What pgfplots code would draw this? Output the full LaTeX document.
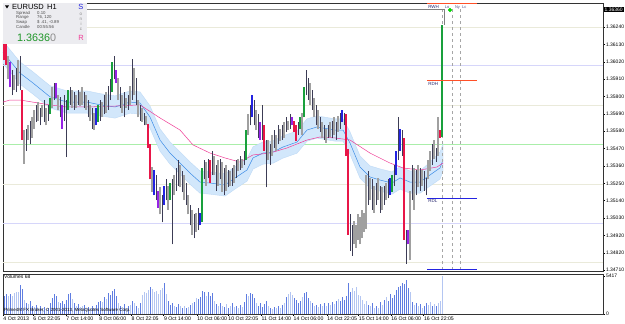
\documentclass[border=0pt]{standalone}
\usepackage{pgfplots}
\pgfplotsset{compat=1.18}
\usepackage{pgfplotstable}
\usepackage{fontspec}
\setmainfont{Liberation Sans}
\definecolor{cdark}{RGB}{60,60,85}
\definecolor{cgray}{RGB}{160,160,160}
\definecolor{cred}{RGB}{232,22,72}
\definecolor{cgreen}{RGB}{25,160,60}
\definecolor{cblue}{RGB}{35,35,225}
\definecolor{cpurple}{RGB}{150,35,230}
\definecolor{corange}{RGB}{255,80,40}
\definecolor{bandfill}{RGB}{210,231,251}
\definecolor{bandedge}{RGB}{190,218,246}
\definecolor{mablue}{RGB}{60,140,230}
\definecolor{mapink}{RGB}{240,60,150}
\definecolor{vdark}{RGB}{95,125,225}
\definecolor{vlight}{RGB}{180,198,242}
\definecolor{pbeige}{RGB}{234,234,218}
\definecolor{plav}{RGB}{214,214,250}
\definecolor{pgreen}{RGB}{170,238,170}
\definecolor{navytxt}{RGB}{40,40,110}
\definecolor{boxgray}{RGB}{236,236,240}
\definecolor{bignum}{RGB}{30,150,40}

% candles by colour class: bar index, low, high (pips above 1.3400)
\pgfplotstableread{
x lo hi
4 181 197
6 183 198
8 184 206
11 146 160
13 150 165
16 164 175
18 162 173
20 164 178
22 165 175
25 178 189
28 167 180
30 165 181
31 142 178
33 175 186
35 172 183
37 175 184
40 173 183
42 167 178
44 160 173
48 165 178
50 169 181
52 172 187
53 178 191
55 191 206
58 173 186
60 167 183
62 172 181
64 178 204
66 175 192
68 165 175
70 162 170
76 115 131
79 101 118
81 115 128
84 87 128
86 121 135
87 124 140
89 120 133
91 112 126
93 99 112
95 91 106
97 96 110
100 128 140
102 129 141
104 131 146
106 121 137
108 128 141
110 118 135
112 123 134
114 124 135
116 129 140
118 134 143
120 137 146
123 162 175
125 162 178
127 154 169
129 153 175
131 123 153
133 137 150
135 148 159
137 150 162
139 153 162
141 158 167
143 160 169
147 156 164
151 181 197
152 178 192
154 172 184
156 162 175
158 158 167
160 153 162
162 154 162
164 154 165
166 153 164
168 160 170
170 162 170
173 83 106
174 80 99
182 112 133
184 109 128
186 112 126
188 107 124
190 112 124
192 116 128
195 124 137
197 140 167
199 143 159
201 75 96
204 115 137
206 118 134
208 121 135
210 121 133
211 118 129
214 137 150
216 139 148
}\cdarkbars

\pgfplotstableread{
x lo hi
2 191 206
5 184 194
7 187 203
10 138 159
12 153 162
14 154 167
15 160 172
17 165 177
19 167 175
21 162 173
24 173 186
27 172 181
34 173 184
36 173 181
38 174 183
39 175 186
41 172 181
43 165 175
45 159 170
49 167 177
51 170 183
57 178 192
59 170 181
61 173 179
63 175 187
65 181 198
67 167 178
69 164 173
71 162 168
74 120 136
78 106 123
82 109 124
85 118 131
88 123 137
90 115 131
92 106 118
94 93 109
96 95 107
101 124 139
105 131 143
107 124 140
109 120 139
111 121 137
113 124 133
115 126 137
117 133 141
119 135 141
122 156 169
126 159 172
132 140 153
134 143 156
136 146 156
138 152 160
140 154 164
142 159 165
149 156 170
153 175 189
155 167 179
157 160 172
159 154 164
161 151 160
163 155 164
165 156 167
167 158 168
175 87 102
176 85 99
177 90 106
178 87 104
179 91 109
180 95 107
181 97 131
183 115 129
185 107 124
187 115 129
189 109 123
191 115 126
203 77 121
205 109 135
207 123 137
209 124 134
212 128 140
213 133 146
215 141 153
217 143 167
}\cgraybars

\pgfplotstableread{
x lo hi
0 203 216
1 200 213
9 153 184
72 148 163
73 128 150
103 126 140
130 146 162
145 158 165
146 152 162
171 143 169
172 93 147
200 90 154
218 154 159
}\credbars

\pgfplotstableread{
x lo hi
23 169 179
32 172 184
47 164 175
54 183 202
83 115 126
99 101 135
121 140 159
148 160 167
150 167 186
194 120 131
219 155 225
}\cgreenbars

\pgfplotstableread{
x lo hi
46 162 173
75 118 134
80 112 124
98 99 107
124 167 181
169 164 172
193 118 129
196 131 146
198 146 160
}\cbluebars

\pgfplotstableread{
x lo hi
3 186 202
26 179 189
29 160 175
56 189 197
77 110 121
128 153 164
144 162 167
202 87 96
}\cpurplebars

% volumes (all bars), and the lighter-coloured subset
\pgfplotstableread{
x vol
0 2500
1 2800
2 2500
3 2800
4 2600
5 3000
6 3200
7 3100
8 4100
9 3500
10 2000
11 1600
12 1400
13 1800
14 1200
15 1000
16 1300
17 900
18 1100
19 800
20 1000
21 700
22 900
23 1500
24 2300
25 2800
26 2500
27 1700
28 1500
29 1800
30 1400
31 2000
32 2900
33 3000
34 2200
35 1500
36 1200
37 1400
38 1000
39 1100
40 1300
41 900
42 1000
43 800
44 1200
45 900
46 1300
47 1700
48 1900
49 1700
50 2400
51 2100
52 3000
53 2700
54 3300
55 3500
56 2600
57 1500
58 1200
59 1000
60 1400
61 800
62 1100
63 1300
64 1800
65 1500
66 1200
67 900
68 1500
69 2700
70 3200
71 3000
72 3400
73 3900
74 3600
75 3100
76 3300
77 2900
78 3400
79 3700
80 4400
81 2800
82 1800
83 1300
84 1600
85 1200
86 1000
87 1400
88 1100
89 900
90 1200
91 800
92 1000
93 1300
94 1500
95 1700
96 2300
97 2100
98 2400
99 3300
100 3100
101 2600
102 3200
103 2500
104 3000
105 1800
106 1400
107 1100
108 1600
109 1200
110 1000
111 1400
112 900
113 1100
114 1500
115 1000
116 1200
117 800
118 1300
119 1000
120 1700
121 2800
122 2600
123 3000
124 2900
125 2300
126 1500
127 1200
128 1600
129 1000
130 1400
131 1800
132 1100
133 900
134 700
135 1000
136 800
137 1200
138 900
139 1300
140 1600
141 2400
142 2900
143 3100
144 2700
145 2300
146 2000
147 1500
148 1800
149 2400
150 3000
151 3200
152 2300
153 1800
154 1500
155 1200
156 1300
157 1000
158 1400
159 1100
160 1500
161 1200
162 1600
163 1300
164 1700
165 1400
166 1800
167 2100
168 1900
169 2400
170 2000
171 2600
172 4400
173 3200
174 3700
175 3300
176 3900
177 2700
178 2500
179 2000
180 1400
181 1800
182 1300
183 1100
184 1500
185 900
186 1200
187 800
188 1700
189 1300
190 2000
191 2400
192 1900
193 2800
194 2300
195 2700
196 3400
197 3800
198 4000
199 4400
200 4300
201 4800
202 3700
203 3100
204 1700
205 1300
206 1500
207 1100
208 1400
209 900
210 1200
211 1500
212 1300
213 1700
214 1100
215 1400
216 1200
217 1600
218 1900
219 5417
}\vols

\pgfplotstableread{
x vol
2 2500
4 2600
5 3000
6 3200
7 3100
10 2000
12 1400
15 1000
17 900
19 800
21 700
27 1700
34 2200
36 1200
38 1000
39 1100
41 900
43 800
45 900
49 1700
51 2100
57 1500
59 1000
61 800
63 1300
65 1500
67 900
69 2700
70 3200
71 3000
72 3400
74 3600
75 3100
76 3300
77 2900
78 3400
79 3700
81 2800
85 1200
88 1100
90 1200
92 1000
94 1500
96 2300
101 2600
105 1800
107 1100
109 1200
111 1400
113 1100
115 1000
117 800
119 1000
122 2600
126 1500
132 1100
134 700
136 800
138 900
140 1600
142 2900
143 3100
144 2700
149 2400
153 1800
155 1200
157 1000
159 1100
161 1200
163 1300
165 1400
167 2100
174 3700
175 3300
176 3900
177 2700
178 2500
179 2000
180 1400
181 1800
183 1100
185 900
187 800
189 1300
191 2400
203 3100
205 1300
207 1100
209 900
212 1300
213 1700
215 1400
217 1600
218 1900
219 5417
}\volslight

\pgfplotstableread{
x mid
-0.5 208
8 195
14.5 188.7
23 180
31.5 176.7
41.5 176.7
48 175
55.5 173.6
63 176.7
68 176.1
73 167.3
78 152.8
83 144.6
88 138.3
93 132
98 126.3
103 125.7
110.5 124.5
115.5 128.9
121.5 133.9
124.5 141.5
129.5 144.6
134.5 145.2
139.5 148.4
146.5 151.5
151.5 159.1
156.5 161
165.5 159.1
169.5 159.1
173 150.9
178 135.8
183 129.5
188 127.6
194 125.7
198 128.9
203 126.3
208 126.3
213 130.8
218 135.2
219.5 140.2
}\fastma

\pgfplotstableread{
x v
-0.5 176.7
3 178
8 178
23 174.9
31.5 173.6
41.5 173.6
55.5 174.2
68 174.9
78 166.7
88 159.1
94.5 149.7
103 144.6
110.5 141.5
118 138.9
124.5 143.4
133 144.6
141.5 147.8
151.5 152.8
158 154.7
165.5 154.1
173 152.8
183 144.6
193 138.3
199.5 135.2
208 133.9
216.5 135.8
219.5 138.3
}\slowma

\pgfplotsset{
  pbar/.style 2 args={draw=none, mark=none, forget plot,
    error bars/.cd, y dir=plus, y explicit, error mark=none,
    error bar style={line width=#2, draw=#1}},
  pivot/.style={line width=0.8pt, mark=none, forget plot},
}

\begin{document}
\begin{tikzpicture}
\path[use as bounding box] (0,0) rectangle (625pt,324pt);
\fill[white] (0,0) rectangle (625pt,324pt);

% ---------- price panel ----------
\begin{axis}[
  at={(3pt,53pt)}, anchor=south west, scale only axis,
  width=600pt, height=268pt,
  xmin=-0.5, xmax=299.5, ymin=70.3, ymax=239.1,
  clip=false,
  axis line style={draw=black!80, line width=0.8pt},
  xtick=\empty,
  ytick={224,213.06,202.12,191.18,180.24,169.30,158.36,147.42,136.48,125.54,114.60,103.66,92.72,81.78,70.84},
  yticklabels={1.36240,1.36130,1.36020,1.35910,1.35800,1.35690,1.35580,1.35470,1.35360,1.35250,1.35140,1.35030,1.34920,1.34820,1.34710},
  ytick pos=right, yticklabel pos=right, tick align=outside,
  major tick length=2pt, tick style={black, line width=0.4pt},
  yticklabel style={font=\fontsize{5}{6}\selectfont, inner sep=0.8pt},
]
% pivot lines
\addplot[pivot, pbeige] coordinates {(-0.5,224) (299.5,224)};
\addplot[pivot, plav] coordinates {(-0.5,200.1) (299.5,200.1)};
\addplot[pivot, pbeige] coordinates {(-0.5,174.9) (299.5,174.9)};
\addplot[pivot, pgreen] coordinates {(-0.5,150.3) (299.5,150.3)};
\addplot[pivot, pbeige] coordinates {(-0.5,125.1) (299.5,125.1)};
\addplot[pivot, plav] coordinates {(-0.5,100.5) (299.5,100.5)};
\addplot[pivot, pbeige] coordinates {(-0.5,75.9) (299.5,75.9)};

% envelope band around the fast average
\addplot[fill=bandfill, draw=bandedge, line width=0.4pt, mark=none, forget plot] coordinates {
(-0.5,215) (8,202) (14.5,195.7) (23,187) (31.5,183.7) (41.5,183.7) (48,182) (55.5,180.6) (63,183.7) (68,183.1) (73,174.3) (78,159.8) (83,151.6) (88,145.3) (93,139) (98,133.3) (103,132.7) (110.5,131.5) (115.5,135.9) (121.5,140.9) (124.5,148.5) (129.5,151.6) (134.5,152.2) (139.5,155.4) (146.5,158.5) (151.5,166.1) (156.5,168) (165.5,166.1) (169.5,166.1) (173,157.9) (178,142.8) (183,136.5) (188,134.6) (194,132.7) (198,135.9) (203,133.3) (208,133.3) (213,138.8) (218,145.2) (219.5,150.2)
(219.5,133.2) (218,128.2) (213,123.8) (208,119.3) (203,119.3) (198,121.9) (194,118.7) (188,120.6) (183,122.5) (178,128.8) (173,143.9) (169.5,152.1) (165.5,152.1) (156.5,154) (151.5,152.1) (146.5,144.5) (139.5,141.4) (134.5,138.2) (129.5,137.6) (124.5,134.5) (121.5,126.9) (115.5,121.9) (110.5,117.5) (103,118.7) (98,119.3) (93,125) (88,131.3) (83,137.6) (78,145.8) (73,160.3) (68,169.1) (63,169.7) (55.5,166.6) (48,168) (41.5,169.7) (31.5,169.7) (23,173) (14.5,181.7) (8,188) (-0.5,201)
} -- cycle;
\addplot[mablue, line width=0.5pt, mark=none, forget plot] table[x=x,y=mid] {\fastma};
\addplot[mapink, line width=0.5pt, mark=none, forget plot] table[x=x,y=v] {\slowma};

% dashed session lines
\addplot[gray!70, dashed, line width=0.4pt, mark=none, forget plot] coordinates {(219,71) (219,236)};
\addplot[gray!70, dashed, line width=0.4pt, mark=none, forget plot] coordinates {(224,71) (224,236)};
\addplot[gray!70, dashed, line width=0.4pt, mark=none, forget plot] coordinates {(228,71) (228,236)};

% candles
\addplot[pbar={cgray}{1.2pt}] table[x=x, y=lo, y error expr=\thisrow{hi}-\thisrow{lo}] {\cgraybars};
\addplot[pbar={cdark}{0.8pt}] table[x=x, y=lo, y error expr=\thisrow{hi}-\thisrow{lo}] {\cdarkbars};
\addplot[pbar={cred}{1.2pt}] table[x=x, y=lo, y error expr=\thisrow{hi}-\thisrow{lo}] {\credbars};
\addplot[pbar={cgreen}{1.2pt}] table[x=x, y=lo, y error expr=\thisrow{hi}-\thisrow{lo}] {\cgreenbars};
\addplot[pbar={cblue}{1.2pt}] table[x=x, y=lo, y error expr=\thisrow{hi}-\thisrow{lo}] {\cbluebars};
\addplot[pbar={cpurple}{1.2pt}] table[x=x, y=lo, y error expr=\thisrow{hi}-\thisrow{lo}] {\cpurplebars};

% range lines
\addplot[corange, line width=0.9pt, mark=none, forget plot] coordinates {(211.5,238.7) (236.5,238.7)};
\addplot[corange, line width=0.9pt, mark=none, forget plot] coordinates {(211.5,190.6) (236.5,190.6)};
\addplot[cblue, line width=0.9pt, mark=none, forget plot] coordinates {(211.5,116.3) (236.5,116.3)};
\addplot[cblue, line width=0.9pt, mark=none, forget plot] coordinates {(211.5,71) (236.5,71)};
% high line
\addplot[gray, line width=0.8pt, mark=none, forget plot] coordinates {(-0.5,234.9) (220,234.9) (220,225)};
\addplot[only marks, mark=*, mark size=1.9pt, color=green!85!black, forget plot] coordinates {(223,234.7)};

\node[anchor=west, font=\fontsize{4.5}{5}\selectfont, text=navytxt, inner sep=0.5pt] at (axis cs:211.8,236.6) {RWH};
\node[anchor=west, font=\fontsize{4.5}{5}\selectfont, text=navytxt, inner sep=0.5pt] at (axis cs:211.8,188.4) {RDH};
\node[anchor=west, font=\fontsize{4.5}{5}\selectfont, text=navytxt, inner sep=0.5pt] at (axis cs:211.8,114.2) {RDL};
\node[anchor=west, font=\fontsize{4}{5}\selectfont, text=navytxt!80, inner sep=0.3pt] at (axis cs:220.2,236.2) {Lo};
\node[anchor=west, font=\fontsize{4}{5}\selectfont, text=navytxt!80, inner sep=0.3pt] at (axis cs:225.3,236.2) {Ny};
\node[anchor=west, font=\fontsize{4}{5}\selectfont, text=navytxt!80, inner sep=0.3pt] at (axis cs:228.8,236.2) {Lc};
\node[anchor=west, fill=black, text=white, font=\fontsize{5}{6}\selectfont, inner sep=0.9pt, xshift=0.6pt] at (axis cs:299.5,235) {1.36360};
\end{axis}

% ---------- volume panel ----------
\begin{axis}[
  at={(3pt,10pt)}, anchor=south west, scale only axis,
  width=600pt, height=40pt,
  xmin=-0.5, xmax=299.5, ymin=0, ymax=5700,
  axis line style={draw=black!80, line width=0.8pt},
  xtick={-0.5,14.5,31,47.4,63.6,79.8,96.4,112,128.6,144.6,161.4,177.2,193.4,209.8},
  xticklabels={4 Oct 2013,6 Oct 22:05,7 Oct 14:00,8 Oct 06:00,8 Oct 22:05,9 Oct 14:00,10 Oct 06:00,10 Oct 22:05,11 Oct 14:00,14 Oct 06:00,14 Oct 22:05,15 Oct 14:00,16 Oct 06:00,16 Oct 22:05},
  xtick pos=bottom, ytick pos=right, yticklabel pos=right,
  ytick={0,5417}, yticklabels={0,5417},
  tick align=outside, major tick length=2pt, tick style={black, line width=0.4pt},
  xticklabel style={font=\fontsize{5.2}{6}\selectfont, anchor=north west, inner sep=0.6pt, xshift=-0.3pt},
  yticklabel style={font=\fontsize{5}{6}\selectfont, inner sep=0.8pt},
]
\addplot[ycomb, mark=none, line width=0.8pt, draw=vdark, forget plot] table[x=x, y=vol] {\vols};
\addplot[ycomb, mark=none, line width=0.8pt, draw=vlight, forget plot] table[x=x, y=vol] {\volslight};
\end{axis}

\node[anchor=west, font=\fontsize{5}{6}\selectfont, inner sep=0pt] at (4pt,47pt) {Volumes 68};
\node[anchor=west, font=\fontsize{4.5}{5}\selectfont, inner sep=0pt] at (4pt,13.5pt) {Prime4M FX Broker, © 2001-2013, MetaQuotes Software Corp.};

% ---------- info box ----------
\fill[boxgray] (3.4pt,280pt) rectangle (87pt,320.6pt);
\fill[black] (5pt,318.5pt) -- (9pt,318.5pt) -- (7pt,315.5pt) -- cycle;
\node[anchor=west, font=\fontsize{7.5}{8}\selectfont, inner sep=0pt] at (12pt,317pt) {EURUSD};
\node[anchor=west, font=\fontsize{7.5}{8}\selectfont, inner sep=0pt] at (47pt,317pt) {H1};
\begin{scope}[every node/.style={anchor=west, font=\fontsize{4.3}{5}\selectfont, inner sep=0pt, text=black!70}]
\node at (16pt,311pt) {Spread};  \node at (37pt,311pt) {0.10};
\node at (16pt,306.3pt) {Range};   \node at (37pt,306.3pt) {76, 120};
\node at (16pt,301.6pt) {Swap};    \node at (37pt,301.6pt) {\$ .41, -0.89};
\node at (16pt,296.9pt) {Candle};  \node at (37pt,296.9pt) {00:55:56};
\end{scope}
\node[anchor=west, font=\fontsize{10.8}{12}\selectfont, inner sep=0pt] at (17pt,286pt) {\textcolor{bignum}{1.3636}\textcolor{black!45}{0}};
\node[font=\fontsize{7.5}{8}\selectfont, text=cblue, inner sep=0pt] at (81pt,317pt) {S};
\begin{scope}[every node/.style={font=\fontsize{4.5}{5}\selectfont, inner sep=0pt, text=black!45}]
\node at (81pt,310pt) {o};
\node at (81pt,305pt) {n};
\node at (81pt,300pt) {i};
\node at (81pt,294.5pt) {c};
\end{scope}
\node[font=\fontsize{7.5}{8}\selectfont, text=mapink, inner sep=0pt] at (81pt,286.5pt) {R};
\end{tikzpicture}
\end{document}
